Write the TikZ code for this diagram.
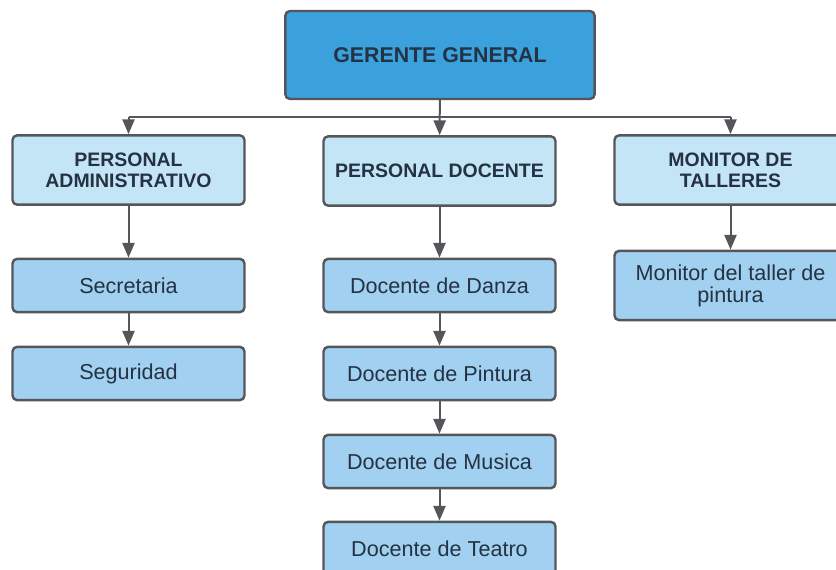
\documentclass[tikz,border=0pt]{standalone}
\usepackage{fontspec}
\setmainfont{Liberation Sans}
\usetikzlibrary{arrows.meta,positioning}
\definecolor{topcolor}{RGB}{58, 161, 221}
\definecolor{areacolor}{RGB}{196, 229, 246}
\definecolor{staffcolor}{RGB}{161, 208, 240}
\definecolor{edgecolor}{RGB}{84, 86, 90}
\definecolor{textcolor}{RGB}{36, 50, 66}

\begin{document}
\begin{tikzpicture}[
    x=0.75pt, y=-0.75pt,
    box/.style={rectangle, draw=edgecolor, line width=1.8pt, rounded corners=3.5pt, align=center, text=textcolor, minimum width=174pt},
    head/.style={box, fill=topcolor, minimum width=232pt, minimum height=66pt, font=\fontsize{16}{18}\selectfont\bfseries},
    area/.style={box, fill=areacolor, minimum height=52pt, font=\fontsize{14.6}{15.8}\selectfont\bfseries},
    staff/.style={box, fill=staffcolor, minimum height=40pt, font=\fontsize{16.2}{16.5}\selectfont},
    link/.style={draw=edgecolor, line width=1.5pt},
    arrow/.style={link, -{Triangle[length=11pt, width=9pt]}}
]
    \clip (0,0) rectangle (836,570);
    \fill[white] (0,0) rectangle (836,570);

    % Top
    \node[head] (gerente) at (440, 55) {GERENTE GENERAL};

    % Areas
    \node[area] (admin) at (128.5, 170) {PERSONAL\\ADMINISTRATIVO};
    \node[area] (docente) at (439.5, 171) {PERSONAL DOCENTE};
    \node[area] (monitor) at (730.5, 170) {MONITOR DE\\TALLERES};

    % Staff
    \node[staff] (secretaria) at (128.5, 285.5) {Secretaria};
    \node[staff] (seguridad) at (128.5, 373.5) {Seguridad};

    \node[staff] (danza) at (439.5, 285.5) {Docente de Danza};
    \node[staff] (pintura) at (439.5, 373.5) {Docente de Pintura};
    \node[staff] (musica) at (439.5, 461.5) {Docente de Musica};
    \node[staff] (teatro) at (439.5, 548.5) {Docente de Teatro};

    \node[staff, minimum height=52pt] (taller) at (730.5, 285.5) {Monitor del taller de\\pintura};

    % Bus line
    \coordinate (busL) at (128.5, 117);
    \coordinate (busR) at (730.5, 117);
    \draw[link] (busL) -- (busR);

    % Arrows
    \draw[arrow] (gerente) -- (docente);
    \draw[arrow] (busL) -- (admin);
    \draw[arrow] (busR) -- (monitor);

    \draw[arrow] (admin) -- (secretaria);
    \draw[arrow] (secretaria) -- (seguridad);

    \draw[arrow] (docente) -- (danza);
    \draw[arrow] (danza) -- (pintura);
    \draw[arrow] (pintura) -- (musica);
    \draw[arrow] (musica) -- (teatro);

    \draw[arrow] (monitor) -- (taller);
\end{tikzpicture}
\end{document}
